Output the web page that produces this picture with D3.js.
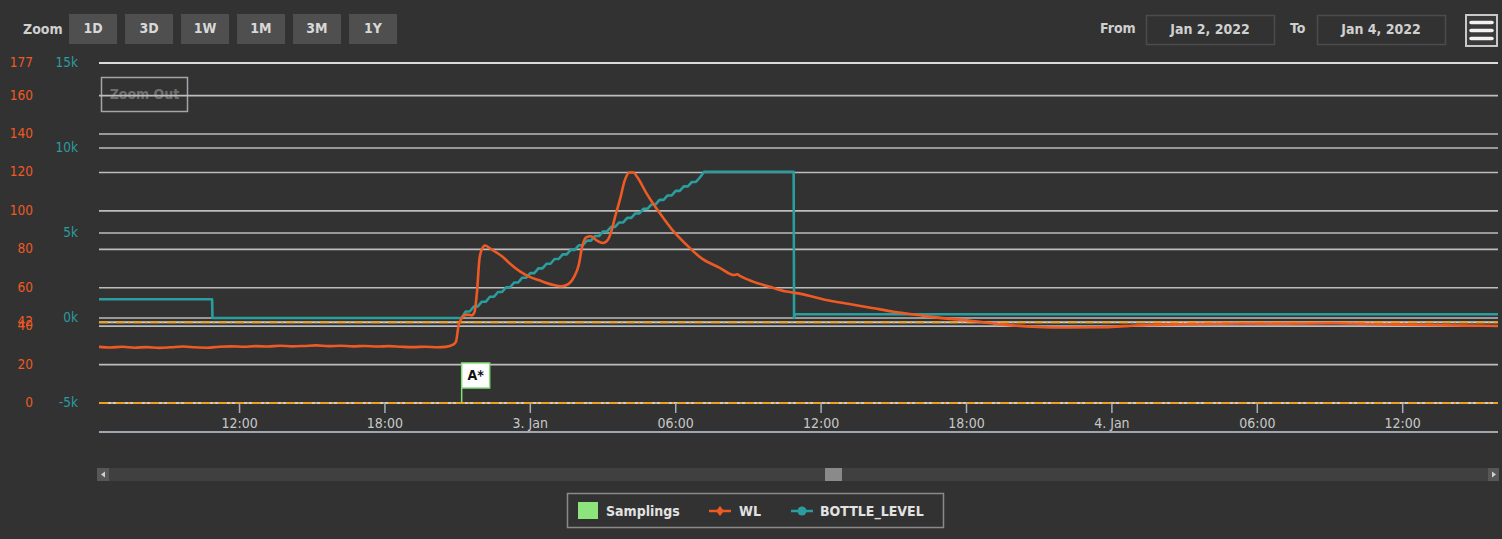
<!DOCTYPE html>
<html><head><meta charset="utf-8">
<script src="https://cdn.jsdelivr.net/npm/d3@7"></script>
<style>
html,body{margin:0;padding:0;background:#323232;}
svg{display:block;font-family:"DejaVu Sans Condensed","DejaVu Sans",sans-serif;font-stretch:condensed;}
</style></head><body>
<script>
// ---------- DATA ----------
const wlTimes = ["2022-01-02 06:12","2022-01-02 06:40","2022-01-02 07:10","2022-01-02 07:40","2022-01-02 08:10","2022-01-02 08:40","2022-01-02 09:10","2022-01-02 09:40","2022-01-02 10:10","2022-01-02 10:40","2022-01-02 11:10","2022-01-02 11:40","2022-01-02 12:10","2022-01-02 12:40","2022-01-02 13:10","2022-01-02 13:40","2022-01-02 14:10","2022-01-02 14:40","2022-01-02 15:10","2022-01-02 15:40","2022-01-02 16:10","2022-01-02 16:40","2022-01-02 17:10","2022-01-02 17:40","2022-01-02 18:10","2022-01-02 18:40","2022-01-02 19:10","2022-01-02 19:40","2022-01-02 20:10","2022-01-02 20:30","2022-01-02 20:50","2022-01-02 20:56","2022-01-02 21:02","2022-01-02 21:08","2022-01-02 21:15","2022-01-02 21:25","2022-01-02 21:35","2022-01-02 21:42","2022-01-02 21:48","2022-01-02 21:54","2022-01-02 22:00","2022-01-02 22:08","2022-01-02 22:20","2022-01-02 22:35","2022-01-02 22:52","2022-01-02 23:10","2022-01-02 23:34","2022-01-03 00:00","2022-01-03 00:20","2022-01-03 00:56","2022-01-03 01:18","2022-01-03 01:35","2022-01-03 01:48","2022-01-03 02:00","2022-01-03 02:08","2022-01-03 02:18","2022-01-03 02:30","2022-01-03 02:45","2022-01-03 03:00","2022-01-03 03:12","2022-01-03 03:20","2022-01-03 03:30","2022-01-03 03:42","2022-01-03 03:54","2022-01-03 04:05","2022-01-03 04:15","2022-01-03 04:25","2022-01-03 04:48","2022-01-03 05:20","2022-01-03 05:52","2022-01-03 06:26","2022-01-03 07:06","2022-01-03 07:48","2022-01-03 08:25","2022-01-03 08:32","2022-01-03 08:40","2022-01-03 09:11","2022-01-03 09:53","2022-01-03 10:35","2022-01-03 11:10","2022-01-03 12:12","2022-01-03 13:10","2022-01-03 14:06","2022-01-03 15:00","2022-01-03 16:00","2022-01-03 17:00","2022-01-03 17:54","2022-01-03 19:03","2022-01-03 20:00","2022-01-03 20:57","2022-01-03 22:00","2022-01-03 23:35","2022-01-04 00:30","2022-01-04 01:32","2022-01-04 03:00","2022-01-04 05:20","2022-01-04 07:00","2022-01-04 09:08","2022-01-04 11:00","2022-01-04 12:56","2022-01-04 14:30","2022-01-04 15:56"];
const wlValues = [29.2,28.9,29.3,28.8,29.1,28.7,29.0,29.4,29.0,28.8,29.3,29.5,29.3,29.6,29.4,29.8,29.5,29.7,30.0,29.6,29.8,29.5,29.7,29.4,29.6,29.3,29.1,29.3,29.0,29.2,30.5,32,40,43.5,45.5,46.0,45.6,47.5,58,75,80,82,80.5,78.5,76,72.5,68.5,65.5,64,61.5,60.8,62,65.5,72,81,86.2,86.8,84.5,83.3,85,89,97,106,116,120,120,117.5,109,99,90,82.5,75,70.5,66.6,67.0,66.0,63.2,60.5,58,56.8,53.6,51.5,49.5,47.5,45.8,44.2,43.2,41.5,40.3,39.6,39.3,39.4,40.0,40.6,41.0,41.4,41.3,41.5,41.0,40.6,40.3,40.1];

const bottleTimes = ["2022-01-02 06:12","2022-01-02 10:52","2022-01-02 10:53","2022-01-02 21:00","2022-01-02 21:10","2022-01-02 21:20","2022-01-02 21:30","2022-01-02 21:40","2022-01-02 21:50","2022-01-02 22:00","2022-01-02 22:10","2022-01-02 22:20","2022-01-02 22:30","2022-01-02 22:40","2022-01-02 22:50","2022-01-02 23:00","2022-01-02 23:10","2022-01-02 23:20","2022-01-02 23:30","2022-01-02 23:40","2022-01-02 23:50","2022-01-03 00:00","2022-01-03 00:10","2022-01-03 00:20","2022-01-03 00:30","2022-01-03 00:40","2022-01-03 00:50","2022-01-03 01:00","2022-01-03 01:10","2022-01-03 01:20","2022-01-03 01:30","2022-01-03 01:40","2022-01-03 01:50","2022-01-03 02:00","2022-01-03 02:10","2022-01-03 02:20","2022-01-03 02:30","2022-01-03 02:40","2022-01-03 02:50","2022-01-03 03:00","2022-01-03 03:10","2022-01-03 03:20","2022-01-03 03:30","2022-01-03 03:40","2022-01-03 03:50","2022-01-03 04:00","2022-01-03 04:10","2022-01-03 04:20","2022-01-03 04:30","2022-01-03 04:40","2022-01-03 04:50","2022-01-03 05:00","2022-01-03 05:10","2022-01-03 05:20","2022-01-03 05:30","2022-01-03 05:40","2022-01-03 05:50","2022-01-03 06:00","2022-01-03 06:10","2022-01-03 06:20","2022-01-03 06:30","2022-01-03 06:40","2022-01-03 06:50","2022-01-03 07:00","2022-01-03 07:10","2022-01-03 10:52","2022-01-03 10:53","2022-01-03 10:55","2022-01-04 15:56"];
const bottleValues = [1100,1100,0,0,0,380,380,680,680,960,960,1250,1250,1530,1530,1810,1810,2090,2090,2370,2370,2640,2640,2920,2920,3190,3190,3470,3470,3740,3740,4010,4010,4280,4280,4550,4550,4820,4820,5090,5090,5360,5360,5620,5620,5890,5890,6150,6150,6420,6420,6680,6680,6950,6950,7210,7210,7480,7480,7740,7740,8000,8000,8270,8600,8600,0,220,220];

const samplingTimes = ["2022-01-02 21:10"];
const samplingLabels = ["A*"];

const wlTicks = [0,20,40,60,80,100,120,140,160,177];
const wlPlotLines = [0,42];
const bottleTicks = [-5000,0,5000,10000,15000];
const bottleTickLabels = ["-5k","0k","5k","10k","15k"];
const zoomButtons = ["1D","3D","1W","1M","3M","1Y"];
const dateFrom = "Jan 2, 2022", dateTo = "Jan 4, 2022";
const xStart = "2022-01-02 06:12", xEnd = "2022-01-04 15:56";

// ---------- SETUP ----------
const W = 1502, H = 539;
const parse = d3.timeParse("%Y-%m-%d %H:%M");
const WL_COLOR = "#ee5a24", BL_COLOR = "#2a9d9f", FLAG_COLOR = "#86e07a";
const wl = wlTimes.map((t,i)=>({t:parse(t), v:wlValues[i]}));
const bl = bottleTimes.map((t,i)=>({t:parse(t), v:bottleValues[i]}));

const L = 99, R = 1498, T = 63, B = 403;
const x = d3.scaleTime().domain([parse(xStart), parse(xEnd)]).range([L, R]);
const yW = d3.scaleLinear().domain([0,177]).range([B,T]);
const yB = d3.scaleLinear().domain([-5000,15000]).range([B,T]);

const svg = d3.select("body").append("svg").attr("width",W).attr("height",H);
svg.append("rect").attr("width",W).attr("height",H).attr("fill","#323232");

// ---------- TOP BAR ----------
svg.append("text").attr("x",23).attr("y",30).attr("dominant-baseline","middle")
  .attr("fill","#cfcfcf").attr("font-size",14).attr("font-weight","bold").text("Zoom");
const zb = svg.append("g").selectAll("g").data(zoomButtons).join("g")
  .attr("transform",(d,i)=>`translate(${69+i*56},14)`);
zb.append("rect").attr("width",48).attr("height",30).attr("fill","#4f4f4f");
zb.append("text").attr("x",24).attr("y",15).attr("text-anchor","middle").attr("dominant-baseline","middle")
  .attr("fill","#d8d8d8").attr("font-size",14).attr("font-weight","bold").text(d=>d);

svg.append("text").attr("x",1100).attr("y",29).attr("dominant-baseline","middle")
  .attr("fill","#cfcfcf").attr("font-size",14).attr("font-weight","bold").text("From");
svg.append("text").attr("x",1290).attr("y",29).attr("dominant-baseline","middle")
  .attr("fill","#cfcfcf").attr("font-size",14).attr("font-weight","bold").text("To");
[[1146,dateFrom],[1317,dateTo]].forEach(([bx,txt])=>{
  svg.append("rect").attr("x",bx+0.5).attr("y",15.5).attr("width",128).attr("height",29)
    .attr("fill","none").attr("stroke","#4c4c4c").attr("stroke-width",1.5);
  svg.append("text").attr("x",bx+64).attr("y",30).attr("text-anchor","middle").attr("dominant-baseline","middle")
    .attr("fill","#d0d0d0").attr("font-size",14).attr("font-weight","bold").text(txt);
});
svg.append("rect").attr("x",1466).attr("y",15).attr("width",31).attr("height",31)
  .attr("fill","#3a3a3a").attr("stroke","#c8c8c8").attr("stroke-width",2);
[22.5,30.5,38.5].forEach(yy=>svg.append("line").attr("x1",1471).attr("x2",1492).attr("y1",yy).attr("y2",yy)
  .attr("stroke","#f2f2f2").attr("stroke-width",3.5).attr("stroke-linecap","round"));

// ---------- ZOOM OUT (under grid) ----------
svg.append("rect").attr("x",101.5).attr("y",77.5).attr("width",86).attr("height",34)
  .attr("fill","none").attr("stroke","#a5a5a5").attr("stroke-width",1.5);
svg.append("text").attr("x",144.5).attr("y",95).attr("text-anchor","middle").attr("dominant-baseline","middle")
  .attr("fill","#6e6e6e").attr("font-size",14).attr("font-weight","bold").text("Zoom Out");

// ---------- GRID ----------
const grid = svg.append("g");
wlTicks.forEach(v=>grid.append("line").attr("x1",L).attr("x2",R).attr("y1",yW(v)).attr("y2",yW(v))
  .attr("stroke", v===177 ? "#e6e6e6" : "#bdbdbd").attr("stroke-width",1.6));
bottleTicks.forEach(v=>grid.append("line").attr("x1",L).attr("x2",R).attr("y1",yB(v)).attr("y2",yB(v))
  .attr("stroke", v===15000 ? "#e6e6e6" : "#bdbdbd").attr("stroke-width",1.6));

wlPlotLines.forEach(v=>{
  grid.append("line").attr("x1",L).attr("x2",R).attr("y1",yW(v)).attr("y2",yW(v))
    .attr("stroke","#c9cdd3").attr("stroke-width",2);
  grid.append("line").attr("x1",L).attr("x2",R).attr("y1",yW(v)).attr("y2",yW(v))
    .attr("stroke","#f0a020").attr("stroke-width",2).attr("stroke-dasharray","9,3,2,3");
});

// ---------- Y AXIS LABELS ----------
const wlLabelVals = wlTicks.concat([42]);
svg.append("g").selectAll("text").data(wlLabelVals).join("text")
  .attr("x",33).attr("y",d=>yW(d)).attr("text-anchor","end").attr("dominant-baseline","middle")
  .attr("fill",WL_COLOR).attr("font-size",13.5).text(d=>d);
svg.append("g").selectAll("text").data(bottleTicks).join("text")
  .attr("x",78).attr("y",d=>yB(d)).attr("text-anchor","end").attr("dominant-baseline","middle")
  .attr("fill",BL_COLOR).attr("font-size",13.5).text((d,i)=>bottleTickLabels[i]);

// ---------- X AXIS ----------
const xTicks = x.ticks(d3.timeHour.every(6));
const fmt = d=> d.getHours()===0 ? d3.timeFormat("%-d. %b")(d) : d3.timeFormat("%H:%M")(d);
const xa = svg.append("g");
xa.selectAll("line.tick").data(xTicks).join("line").attr("class","tick")
  .attr("x1",d=>x(d)).attr("x2",d=>x(d)).attr("y1",B).attr("y2",B+10)
  .attr("stroke","#a6adb6").attr("stroke-width",1.5);
xa.selectAll("text").data(xTicks).join("text")
  .attr("x",d=>x(d)).attr("y",424).attr("text-anchor","middle").attr("dominant-baseline","middle")
  .attr("fill","#c8c8c8").attr("font-size",14).text(fmt);
xa.append("line").attr("x1",L).attr("x2",R).attr("y1",432).attr("y2",432)
  .attr("stroke","#9ea6b0").attr("stroke-width",2);

// ---------- SERIES ----------
svg.append("clipPath").attr("id","clip").append("rect").attr("x",L).attr("y",T-5).attr("width",R-L).attr("height",B-T+10);
const plot = svg.append("g").attr("clip-path","url(#clip)");
plot.append("path").datum(bl).attr("fill","none").attr("stroke",BL_COLOR).attr("stroke-width",2.6)
  .attr("stroke-linejoin","round")
  .attr("d", d3.line().x(d=>x(d.t)).y(d=>yB(d.v)));
plot.append("path").datum(wl).attr("fill","none").attr("stroke",WL_COLOR).attr("stroke-width",2.6)
  .attr("stroke-linejoin","round")
  .attr("d", d3.line().x(d=>x(d.t)).y(d=>yW(d.v)).curve(d3.curveMonotoneX));

// ---------- FLAGS ----------
const flags = svg.append("g").selectAll("g").data(samplingTimes).join("g")
  .attr("transform",d=>`translate(${x(parse(d))},0)`);
flags.append("line").attr("x1",0).attr("x2",0).attr("y1",388).attr("y2",B)
  .attr("stroke",FLAG_COLOR).attr("stroke-width",1.5);
flags.append("rect").attr("x",0).attr("y",363).attr("width",28).attr("height",25)
  .attr("fill","#ffffff").attr("stroke",FLAG_COLOR).attr("stroke-width",1.5);
flags.append("text").attr("x",14).attr("y",376).attr("text-anchor","middle").attr("dominant-baseline","middle")
  .attr("fill","#111").attr("font-size",14).attr("font-weight","bold").text((d,i)=>samplingLabels[i]);

// ---------- SCROLLBAR ----------
svg.append("rect").attr("x",97).attr("y",468).attr("width",1402).attr("height",13).attr("fill","#404040");
svg.append("rect").attr("x",97).attr("y",468).attr("width",12).attr("height",13).attr("fill","#575757");
svg.append("path").attr("d","M101,474.5 L105,471.5 L105,477.5 Z").attr("fill","#d0d0d0");
svg.append("rect").attr("x",1488).attr("y",468).attr("width",11).attr("height",13).attr("fill","#575757");
svg.append("path").attr("d","M1496,474.5 L1492,471.5 L1492,477.5 Z").attr("fill","#d0d0d0");
svg.append("rect").attr("x",825).attr("y",468).attr("width",17).attr("height",13).attr("fill","#8a8a8a");

// ---------- LEGEND ----------
const lg = svg.append("g");
lg.append("rect").attr("x",567.5).attr("y",493.5).attr("width",376).attr("height",34)
  .attr("fill","none").attr("stroke","#8a8a8a").attr("stroke-width",1.5);
lg.append("rect").attr("x",578).attr("y",502).attr("width",20).attr("height",17).attr("fill","#8de37c");
lg.append("text").attr("x",606).attr("y",512).attr("dominant-baseline","middle")
  .attr("fill","#e2e2e2").attr("font-size",14).attr("font-weight","bold").text("Samplings");
lg.append("line").attr("x1",709).attr("x2",731).attr("y1",511).attr("y2",511).attr("stroke",WL_COLOR).attr("stroke-width",2.5);
lg.append("path").attr("d","M720,506 L724,511 L720,516 L716,511 Z").attr("fill",WL_COLOR);
lg.append("text").attr("x",739).attr("y",512).attr("dominant-baseline","middle")
  .attr("fill","#e2e2e2").attr("font-size",14).attr("font-weight","bold").text("WL");
lg.append("line").attr("x1",791).attr("x2",813).attr("y1",511).attr("y2",511).attr("stroke",BL_COLOR).attr("stroke-width",2.5);
lg.append("circle").attr("cx",802).attr("cy",511).attr("r",4.5).attr("fill",BL_COLOR);
lg.append("text").attr("x",820).attr("y",512).attr("dominant-baseline","middle")
  .attr("fill","#e2e2e2").attr("font-size",14).attr("font-weight","bold").text("BOTTLE_LEVEL");
</script>
</body></html>
